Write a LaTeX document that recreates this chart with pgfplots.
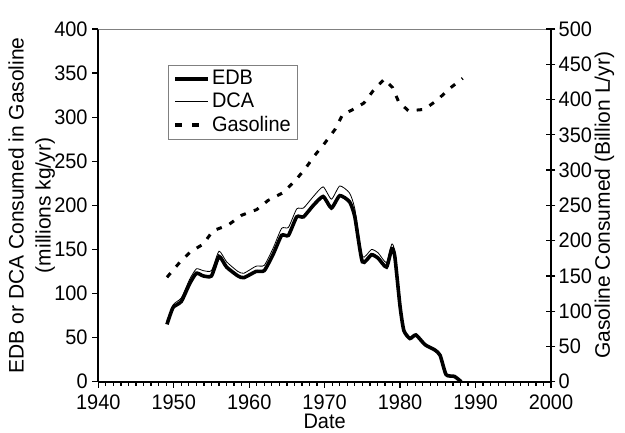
\documentclass[border=0pt]{standalone}
\usepackage{fontspec}
\setmainfont{Liberation Sans}[FakeStretch=0.95]
\newfontfamily\rotfont{Liberation Sans}
\usepackage{pgfplots}
\pgfplotsset{compat=1.18}
\begin{document}
\fontsize{21}{23}\selectfont
\begin{tikzpicture}
\pgfplotsset{
  every axis/.append style={
    scale only axis, width=452.7pt, height=352.7pt,
    at={(0,0)}, anchor=south west,
    xmin=1940, xmax=2000,
    /pgf/number format/assume math mode=true,
    /pgf/number format/1000 sep={},
    tick label style={font=\fontsize{21}{23}\selectfont, black},
    axis line style={black, line width=1.7pt},
    every tick/.style={black, line width=1.3pt},
  }
}
\begin{axis}[
  axis x line*=bottom, axis y line*=left,
  ymin=0, ymax=400,
  ytick={0,50,...,400},
  xtick={1940,1950,...,2000},
  minor x tick num=9,
  tick align=outside,
  major tick length=6pt, minor tick length=4pt,
  yticklabel style={inner sep=1.5pt, xshift=-3pt},
  xticklabel style={inner sep=1.5pt},
  xticklabel shift=5pt,
  xlabel={Date},
  xlabel style={font=\fontsize{21}{23}\selectfont, inner sep=0pt,
    at={(axis description cs:0.5,-0.09)}, anchor=north},
  ylabel={EDB or DCA Consumed in Gasoline\\[4pt](millions kg/yr)},
  ylabel style={font=\rotfont\fontsize{21}{23}\selectfont, align=center,
    at={(axis description cs:-0.147,0.5)}, anchor=center},
  legend style={at={(0.154,0.898)}, anchor=north west, draw=gray, line width=0.8pt,
    font=\fontsize{21}{22}\selectfont, row sep=1pt, inner xsep=5pt, inner ysep=3pt,
    legend cell align=left, nodes={inner sep=2pt}},
  legend image code/.code={\draw[#1] (0pt,0pt) -- (33pt,0pt);},
]
\draw[gray, line width=0.6pt] (rel axis cs:0,1) -- (rel axis cs:1,1);
\addplot[black, line width=3.6pt, smooth, tension=0.35] coordinates {
(1949.1,65) (1949.9,84) (1951.0,91) (1952.1,111) (1953.0,123) (1953.9,120)
(1955.0,120) (1956.0,142) (1957.0,130) (1958.5,120) (1959.3,118) (1960.9,125)
(1962.0,126) (1963.2,145) (1964.3,166) (1965.2,166) (1966.3,187) (1967.2,187)
(1968.5,200) (1969.8,210) (1970.9,197) (1972.0,211) (1973.3,204) (1974.0,187)
(1975.0,136) (1976.2,144) (1977.1,140) (1978.2,130) (1978.9,151) (1979.3,142)
(1980.0,85) (1980.5,58) (1981.3,49) (1982.1,53) (1983.3,42) (1984.6,36)
(1985.3,30) (1986.1,8) (1987.2,6) (1988.1,0)
};
\addlegendentry{EDB}
\addplot[black, line width=0.8pt, smooth, tension=0.35] coordinates {
(1949.1,66) (1949.9,87) (1951.0,95) (1952.1,116) (1953.0,128) (1953.9,126)
(1955.0,126) (1956.0,148) (1957.0,136) (1958.5,125) (1959.3,123) (1960.9,131)
(1962.0,132) (1963.2,152) (1964.3,174) (1965.2,175) (1966.3,196) (1967.2,197)
(1968.5,210) (1969.8,221) (1970.9,207) (1972.0,222) (1973.3,214) (1974.0,196)
(1975.0,142) (1976.2,150) (1977.1,146) (1978.2,135) (1978.9,156) (1979.3,147)
(1980.0,88) (1980.5,60) (1981.3,50) (1982.1,54) (1983.3,43) (1984.6,37)
(1985.3,31) (1986.1,8) (1987.2,6) (1988.1,0)
};
\addlegendentry{DCA}
\addlegendimage{legend image code/.code={\draw[black, line width=3.2pt, dash pattern=on 7pt off 10pt] (0pt,0pt) -- (26pt,0pt);}}
\addlegendentry{Gasoline}
\end{axis}
\begin{axis}[
  axis y line*=right, axis x line=none,
  ymin=0, ymax=500,
  ytick={0,50,...,500},
  tick align=center,
  major tick length=9pt,
  yticklabel style={inner sep=2pt, xshift=1pt},
  ylabel={Gasoline Consumed (Billion L/yr)},
  ylabel style={font=\rotfont\fontsize{21}{23}\selectfont,
    at={(axis description cs:1.118,0.5)}, anchor=center},
]
\addplot[black, line width=3pt, dash pattern=on 5.5pt off 8.5pt] coordinates {
(1949.1,148) (1950.7,168) (1952.2,184) (1953.9,195) (1955.2,214) (1957.2,222)
(1959.0,236) (1961.0,244) (1962.5,257) (1964.5,268) (1966.1,285) (1967.5,303)
(1968.7,321) (1970.0,338) (1971.4,358) (1972.4,379) (1973.6,385) (1975.2,395)
(1976.4,412) (1977.9,429) (1979.0,417) (1979.8,397) (1981.1,384) (1983.2,386)
(1984.9,399) (1986.6,416) (1988.3,430)
};
\end{axis}
\pgfresetboundingbox
\path[use as bounding box] (-98.3pt,-50.3pt) rectangle (526.7pt,381.7pt);
\end{tikzpicture}
\end{document}
